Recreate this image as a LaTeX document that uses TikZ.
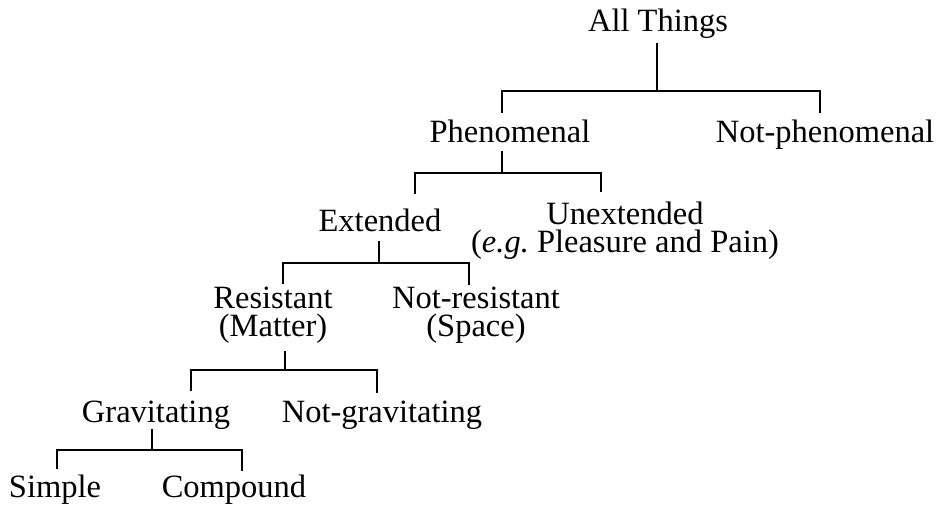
\documentclass[tikz,border=0pt]{standalone}
\usepackage{fontspec}
\setmainfont{Liberation Serif}
\begin{document}
\begin{tikzpicture}[x=1pt,y=-1pt,
  lbl/.style={anchor=base,inner sep=0pt,font=\fontsize{32.5}{28}\selectfont,align=center},
  conn/.style={line width=1.6pt,line cap=rect}]
\useasboundingbox (0,0) rectangle (938,506);
% nodes (base = baseline of the last line)
\node[lbl] (all) at (658,31) {All Things};
\node[lbl] (phen) at (510,142) {Phenomenal};
\node[lbl] (notphen) at (825,142) {Not-phenomenal};
\node[lbl] (ext) at (380,231) {Extended};
\node[lbl] (unext) at (625,252) {Unextended\\(\textit{e.g.}\ Pleasure and Pain)};
\node[lbl] (res) at (273,336) {Resistant\\(Matter)};
\node[lbl] (notres) at (476,336) {Not-resistant\\(Space)};
\node[lbl] (grav) at (156,422) {Gravitating};
\node[lbl] (notgrav) at (382,422) {Not-gravitating};
\node[lbl] (simple) at (55,497) {Simple};
\node[lbl] (comp) at (234,497) {Compound};
% junction and end coordinates
\coordinate (a0) at (657,44);  \coordinate (a1) at (657,91);
\coordinate (a2) at (502,112); \coordinate (a3) at (820,112);
\coordinate (b0) at (502,152); \coordinate (b1) at (502,173);
\coordinate (b2) at (415,193); \coordinate (b3) at (601,191);
\coordinate (c0) at (379,242); \coordinate (c1) at (379,263);
\coordinate (c2) at (283,283); \coordinate (c3) at (469,284);
\coordinate (d0) at (285,352); \coordinate (d1) at (285,370);
\coordinate (d2) at (191,390); \coordinate (d3) at (377,392);
\coordinate (e0) at (152,430); \coordinate (e1) at (152,450);
\coordinate (e2) at (57,468);  \coordinate (e3) at (242,470);
% connectors
\draw[conn] (a0) -- (a1);
\draw[conn] (a2) |- (a1) -| (a3);
\draw[conn] (b0) -- (b1);
\draw[conn] (b2) |- (b1) -| (b3);
\draw[conn] (c0) -- (c1);
\draw[conn] (c2) |- (c1) -| (c3);
\draw[conn] (d0) -- (d1);
\draw[conn] (d2) |- (d1) -| (d3);
\draw[conn] (e0) -- (e1);
\draw[conn] (e2) |- (e1) -| (e3);
\end{tikzpicture}
\end{document}
